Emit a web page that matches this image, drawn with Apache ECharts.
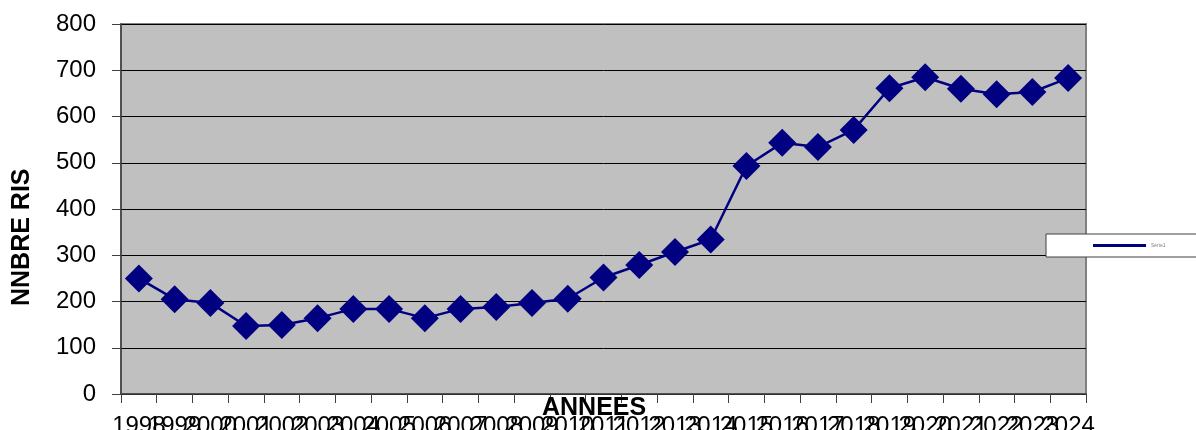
<!DOCTYPE html>
<html>
<head>
<meta charset="utf-8">
<script src="https://cdn.jsdelivr.net/npm/echarts@6/dist/echarts.min.js"></script>
<style>
html,body{margin:0;padding:0;background:#fff;}
#c{width:1196px;height:430px;}
</style>
</head>
<body>
<div id="c"></div>
<script>
var years = ['1998','1999','2000','2001','2002','2003','2004','2005','2006','2007','2008','2009','2010','2011','2012','2013','2014','2015','2016','2017','2018','2019','2020','2021','2022','2023','2024'];
var values = [250,205,197,147,149,164,184,184,164,184,188,197,206,252,279,307,334,493,543,534,571,661,685,660,648,653,683];
var seriesName = 'Série1';
var yTitle = 'NNBRE RIS';
var xTitle = 'ANNEES';

var FONT = '"Liberation Sans", Arial, sans-serif';
var chart = echarts.init(document.getElementById('c'));
chart.setOption({
  animation: false,
  backgroundColor: '#ffffff',
  grid: {
    left: 121, right: 110, top: 24, bottom: 36,
    containLabel: false, outerBoundsMode: 'none',
    show: true, backgroundColor: '#C0C0C0', borderColor: '#808080', borderWidth: 2
  },
  legend: {
    left: 1046, top: 234,
    padding: [9, 60, 9, 47],
    backgroundColor: '#ffffff',
    borderColor: '#404040', borderWidth: 1, borderRadius: 0,
    icon: 'rect', itemWidth: 53, itemHeight: 3, itemGap: 5,
    textStyle: { fontSize: 5, color: '#808080', fontFamily: FONT, lineHeight: 4 },
    data: [seriesName]
  },
  xAxis: {
    type: 'category',
    data: years,
    boundaryGap: true,
    axisLine: { show: true, lineStyle: { color: '#404040', width: 1.5 } },
    axisTick: { show: true, length: 9, alignWithLabel: false, interval: 0, lineStyle: { color: '#404040' } },
    axisLabel: { interval: 0, fontSize: 24, color: '#000', fontFamily: FONT, margin: 20, hideOverlap: false },
    splitLine: { show: false }
  },
  yAxis: {
    type: 'value',
    min: 0, max: 800, interval: 100,
    axisLine: { show: true, lineStyle: { color: '#404040', width: 1.5 } },
    axisTick: { show: true, length: 9, lineStyle: { color: '#404040' } },
    axisLabel: { fontSize: 24, color: '#000', fontFamily: FONT, margin: 25 },
    splitLine: { show: true, lineStyle: { color: '#000', width: 1 } }
  },
  graphic: [
    { type: 'text', left: 542, top: 396, z: 100,
      style: { text: xTitle, font: 'bold 25px ' + FONT, fill: '#000' } },
    { type: 'text', x: 10, y: 306, rotation: Math.PI / 2, z: 100,
      style: { text: yTitle, font: 'bold 25px ' + FONT, fill: '#000', textVerticalAlign: 'top' } }
  ],
  series: [{
    name: seriesName,
    type: 'line',
    data: values,
    color: '#000080',
    lineStyle: { color: '#000080', width: 2.5 },
    itemStyle: { color: '#000080' },
    symbol: 'diamond',
    symbolSize: 28
  }]
});
</script>
</body>
</html>
